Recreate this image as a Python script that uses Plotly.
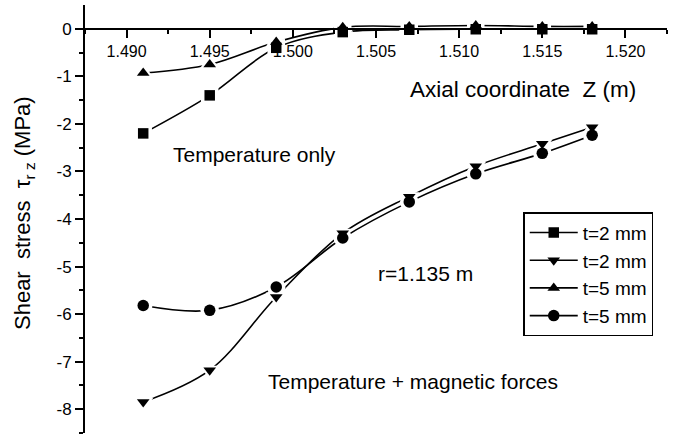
import plotly.graph_objects as go

# ---- data ----
z = [1.491, 1.495, 1.499, 1.503, 1.507, 1.511, 1.515, 1.518]
t2_temp = [-2.20, -1.40, -0.40, -0.07, -0.02, -0.01, -0.01, -0.01]          # squares
t2_mag = [-7.85, -7.18, -5.64, -4.30, -3.53, -2.89, -2.42, -2.07]           # triangle-down
t5_temp = [-0.93, -0.75, -0.28, 0.03, 0.05, 0.07, 0.05, 0.05]               # triangle-up
t5_mag = [-5.82, -5.92, -5.43, -4.40, -3.64, -3.05, -2.62, -2.24]           # circles

series_names = ["t=2 mm", "t=2 mm", "t=5 mm", "t=5 mm"]
x_ticks = [1.490, 1.495, 1.500, 1.505, 1.510, 1.515, 1.520]
x_tick_labels = ["1.490", "1.495", "1.500", "1.505", "1.510", "1.515", "1.520"]
y_ticks = [-8, -7, -6, -5, -4, -3, -2, -1, 0]
y_tick_labels = ["-8", "-7", "-6", "-5", "-4", "-3", "-2", "-1", "0"]
y_minor = [-8.5, -7.5, -6.5, -5.5, -4.5, -3.5, -2.5, -1.5, -0.5]

FONT = "Liberation Sans, Arial, sans-serif"

series = [
    (t2_temp, "square", 10.5),
    (t2_mag, "triangle-down", 11),
    (t5_temp, "triangle-up", 11),
    (t5_mag, "circle", 11.5),
]

fig = go.Figure()

# line traces (with legend)
for (ys, sym, sz), name in zip(series, series_names):
    fig.add_trace(go.Scatter(
        x=z, y=ys, name=name, mode="lines+markers",
        line=dict(color="black", width=1.6, shape="spline", smoothing=1),
        marker=dict(symbol=sym, size=sz, color="black"),
    ))
# white halos to create the gaps around markers
for ys, sym, sz in series:
    fig.add_trace(go.Scatter(
        x=z, y=ys, mode="markers", showlegend=False, hoverinfo="skip",
        marker=dict(symbol=sym, size=sz + 7, color="white",
                    line=dict(width=0)),
    ))
# markers on top
for ys, sym, sz in series:
    fig.add_trace(go.Scatter(
        x=z, y=ys, mode="markers", showlegend=False,
        marker=dict(symbol=sym, size=sz, color="black"),
    ))

def note(text, x, y, size, angle=0):
    return dict(text=text, xref="paper", yref="paper", x=x, y=y,
                xanchor="center", yanchor="middle", showarrow=False,
                textangle=angle, font=dict(size=size))

fig.update_layout(
    width=679, height=439,
    margin=dict(l=85, r=12, t=5, b=6),
    paper_bgcolor="white", plot_bgcolor="white",
    font=dict(family=FONT, color="black", size=16),
    showlegend=True,
    legend=dict(
        x=0.753, y=0.516, xanchor="left", yanchor="top",
        bordercolor="black", borderwidth=1.5, bgcolor="white",
        font=dict(size=19, family=FONT), itemwidth=48,
        tracegroupgap=0,
    ),
    xaxis=dict(
        range=[1.4875, 1.5225], tickvals=x_ticks, ticktext=x_tick_labels,
        ticks="outside", ticklen=8, tickwidth=1.8, tickcolor="black",
        showline=True, linewidth=2, linecolor="black",
        showgrid=False, zeroline=False,
        anchor="free", position=8.5 / 9.0, side="bottom",
        minor=dict(dtick=0.0025, tick0=1.49, ticks="outside", ticklen=4,
                   tickwidth=1.8, tickcolor="black", showgrid=False),
        tickfont=dict(size=16), automargin=False,
    ),
    yaxis=dict(
        range=[-8.5, 0.5], tickvals=y_ticks, ticktext=y_tick_labels,
        ticks="outside", ticklen=8, tickwidth=1.8, tickcolor="black",
        showline=True, linewidth=2, linecolor="black",
        showgrid=False, zeroline=False,
        minor=dict(tickvals=y_minor, ticks="outside", ticklen=4,
                   tickwidth=1.8, tickcolor="black", showgrid=False),
        tickfont=dict(size=17), automargin=False,
    ),
    annotations=[
        note("Axial coordinate  Z (m)", 0.7526, 0.8033, 22.5),
        note("Temperature only", 0.292, 0.6517, 21),
        note("r=1.135 m", 0.585, 0.3717, 21),
        note("Temperature + magnetic forces", 0.5636, 0.1197, 21),
        note("Shear  stress  τ<sub>r z</sub> (MPa)", -0.1048, 0.514, 22, -90),
    ],
)

fig.write_html(
    "out.html",
    config={"displayModeBar": False},
    post_script="document.body.style.margin='0';document.body.style.overflow='hidden';",
)
